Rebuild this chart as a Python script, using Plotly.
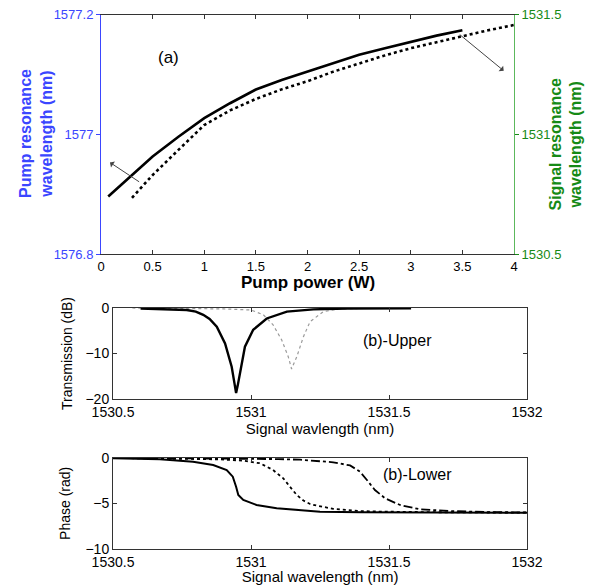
import plotly.graph_objects as go

# ---------------- data ----------------
# (a) pump resonance (left axis) vs pump power
pump_power_a = [0.07, 0.25, 0.5, 0.75, 1.0, 1.25, 1.5, 1.75, 2.0, 2.25, 2.5, 2.75, 3.0, 3.25, 3.5]
pump_resonance = [1576.896, 1576.924, 1576.963, 1576.996, 1577.027, 1577.052, 1577.075, 1577.091,
                  1577.105, 1577.12, 1577.133, 1577.144, 1577.155, 1577.165, 1577.174]
# (a) signal resonance (right axis) vs pump power
pump_power_b = [0.3, 0.5, 0.75, 1.0, 1.25, 1.5, 1.75, 2.0, 2.25, 2.5, 2.75, 3.0, 3.25, 3.5, 3.75, 4.0]
signal_resonance = [1530.735, 1530.83, 1530.935, 1531.039, 1531.10, 1531.148, 1531.188, 1531.222,
                    1531.262, 1531.297, 1531.33, 1531.36, 1531.385, 1531.411, 1531.435, 1531.457]

# (b)-Upper transmission (dB)
trans_wl_1 = [1530.6, 1530.7, 1530.767, 1530.8, 1530.827, 1530.85, 1530.876, 1530.906, 1530.93,
              1530.94, 1530.946, 1530.952, 1530.96, 1530.978, 1531.008, 1531.057, 1531.13,
              1531.226, 1531.35, 1531.58]
trans_db_1 = [-0.1, -0.22, -0.44, -0.8, -1.5, -2.4, -4.1, -7.8, -12.9, -16.5, -18.7, -17.0, -14.4,
              -8.5, -4.8, -2.3, -0.8, -0.3, -0.12, -0.05]
trans_wl_2 = [1530.57, 1530.755, 1530.9, 1531.0, 1531.045, 1531.08, 1531.111, 1531.135, 1531.147,
              1531.166, 1531.19, 1531.214, 1531.262, 1531.322, 1531.43]
trans_db_2 = [0.0, -0.1, -0.2, -0.44, -1.5, -3.7, -7.0, -10.7, -13.4, -10.7, -6.3, -3.0, -0.8,
              -0.2, -0.05]

# (b)-Lower phase (rad)
phase_wl_1 = [1530.5, 1530.67, 1530.79, 1530.863, 1530.912, 1530.934, 1530.946, 1530.954, 1530.972,
              1531.02, 1531.093, 1531.19, 1531.25, 1531.4, 1531.6, 1531.8, 1532.0]
phase_1 = [-0.07, -0.18, -0.44, -0.8, -1.35, -2.08, -3.18, -4.09, -4.63, -5.18, -5.54, -5.8, -5.91,
           -5.97, -6.0, -6.02, -6.03]
phase_wl_2 = [1530.5, 1530.7, 1530.888, 1530.972, 1531.033, 1531.08, 1531.117, 1531.141, 1531.166,
              1531.19, 1531.214, 1531.238, 1531.298, 1531.4, 1531.48, 1531.7, 1532.0]
phase_2 = [-0.03, -0.08, -0.18, -0.33, -0.61, -1.35, -2.26, -3.18, -4.09, -4.7, -5.07, -5.25, -5.6,
           -5.85, -5.91, -5.98, -6.02]
phase_wl_3 = [1530.5, 1530.9, 1531.1, 1531.178, 1531.298, 1531.359, 1531.395, 1531.42, 1531.449,
              1531.486, 1531.54, 1531.612, 1531.72, 1531.85, 1532.0]
phase_3 = [-0.02, -0.08, -0.15, -0.22, -0.5, -0.85, -1.53, -2.44, -3.54, -4.45, -5.18, -5.65, -5.84,
           -5.95, -6.0]

power_ticks = [0, 0.5, 1, 1.5, 2, 2.5, 3, 3.5, 4]
power_ticktext = ["0", "0.5", "1", "1.5", "2", "2.5", "3", "3.5", "4"]
pump_ticks = [1576.8, 1577.0, 1577.2]
pump_ticktext = ["1576.8", "1577", "1577.2"]
signal_ticks = [1530.5, 1531.0, 1531.5]
signal_ticktext = ["1530.5", "1531", "1531.5"]
wl_ticks = [1530.5, 1531.0, 1531.5, 1532.0]
wl_ticktext = ["1530.5", "1531", "1531.5", "1532"]
trans_ticks = [-20, -10, 0]
phase_ticks = [-10, -5, 0]

# ---------------- figure ----------------
W, H = 590, 585
FONT = "Liberation Sans, Arial, Helvetica, sans-serif"
BLUE = "#3b46ff"
GREEN = "#168a16"

def px(x):
    return x / W

def py(y):
    return 1 - y / H

fig = go.Figure()

fig.add_trace(go.Scatter(x=pump_power_a, y=pump_resonance, mode="lines",
                         line=dict(color="black", width=2.6), xaxis="x", yaxis="y",
                         showlegend=False))
fig.add_trace(go.Scatter(x=pump_power_b, y=signal_resonance, mode="lines",
                         line=dict(color="black", width=2.6, dash="dot"), xaxis="x", yaxis="y2",
                         showlegend=False))

fig.add_trace(go.Scatter(x=trans_wl_2, y=trans_db_2, mode="lines",
                         line=dict(color="#9a9a9a", width=1.2, dash="dot"), xaxis="x2", yaxis="y3",
                         showlegend=False))
fig.add_trace(go.Scatter(x=trans_wl_1, y=trans_db_1, mode="lines",
                         line=dict(color="black", width=2.4), xaxis="x2", yaxis="y3",
                         showlegend=False))

fig.add_trace(go.Scatter(x=phase_wl_3, y=phase_3, mode="lines",
                         line=dict(color="black", width=1.8, dash="dashdot"), xaxis="x3", yaxis="y4",
                         showlegend=False))
fig.add_trace(go.Scatter(x=phase_wl_2, y=phase_2, mode="lines",
                         line=dict(color="black", width=1.8, dash="dot"), xaxis="x3", yaxis="y4",
                         showlegend=False))
fig.add_trace(go.Scatter(x=phase_wl_1, y=phase_1, mode="lines",
                         line=dict(color="black", width=2.0), xaxis="x3", yaxis="y4",
                         showlegend=False))

top_dom_x = [px(101), px(514)]
top_dom_y = [py(254), py(14.7)]
mid_dom_x = [px(113), px(527)]
mid_dom_y = [py(399), py(308)]
bot_dom_y = [py(549), py(457.7)]

common_box = dict(showline=True, linecolor="#333", linewidth=1, ticks="inside", ticklen=4,
                  tickcolor="#333", showgrid=False, zeroline=False, mirror="ticks",
                  automargin=False)

fig.update_layout(
    width=W, height=H, autosize=False,
    margin=dict(l=0, r=0, t=0, b=0, autoexpand=False),
    paper_bgcolor="white", plot_bgcolor="white",
    font=dict(family=FONT, color="black", size=14),
    xaxis=dict(domain=top_dom_x, anchor="y", range=[0, 4], tickvals=power_ticks,
               ticktext=power_ticktext, tickfont=dict(size=13), **common_box),
    yaxis=dict(domain=top_dom_y, anchor="x", range=[1576.8, 1577.2], tickvals=pump_ticks,
               ticktext=pump_ticktext, tickfont=dict(size=13, color=BLUE), showline=True,
               linecolor=BLUE, linewidth=1, ticks="outside", ticklen=4, tickcolor=BLUE,
               showgrid=False, zeroline=False, ticklabelstandoff=0, automargin=False),
    yaxis2=dict(overlaying="y", side="right", anchor="x", range=[1530.5, 1531.5],
                tickvals=signal_ticks, ticktext=signal_ticktext,
                tickfont=dict(size=13, color=GREEN), showline=True, linecolor="#5cb85c",
                linewidth=1, ticks="outside", ticklen=4, tickcolor=GREEN, showgrid=False,
                zeroline=False, ticklabelstandoff=0, automargin=False),
    xaxis2=dict(domain=mid_dom_x, anchor="y3", range=[1530.5, 1532], tickvals=wl_ticks,
                ticktext=wl_ticktext, tickfont=dict(size=14),
                title=dict(text="Signal wavlength (nm)", font=dict(size=15), standoff=3),
                **common_box),
    yaxis3=dict(domain=mid_dom_y, anchor="x2", range=[-20, 0], tickvals=trans_ticks,
                tickfont=dict(size=14),
                title=dict(text="Transmission (dB)", font=dict(size=14), standoff=9),
                **common_box),
    xaxis3=dict(domain=mid_dom_x, anchor="y4", range=[1530.5, 1532], tickvals=wl_ticks,
                ticktext=wl_ticktext, tickfont=dict(size=14),
                title=dict(text="Signal wavelength (nm)", font=dict(size=15), standoff=3),
                **common_box),
    yaxis4=dict(domain=bot_dom_y, anchor="x3", range=[-10, 0], tickvals=phase_ticks,
                tickfont=dict(size=14),
                title=dict(text="Phase (rad)", font=dict(size=14), standoff=11),
                **common_box),
)

annotations = [
    dict(text="Pump resonance<br>wavelength (nm)", x=px(36), y=py(134), xref="paper", yref="paper",
         textangle=-90, showarrow=False, xanchor="center", yanchor="middle",
         font=dict(size=16, color=BLUE, family=FONT, weight="bold")),
    dict(text="Signal resonance<br>wavelength (nm)", x=px(565.5), y=py(144), xref="paper",
         yref="paper", textangle=-90, showarrow=False, xanchor="center", yanchor="middle",
         font=dict(size=16, color=GREEN, family=FONT, weight="bold")),
    dict(text="<b>Pump power (W)</b>", x=px(308), y=py(282), xref="paper", yref="paper",
         showarrow=False, xanchor="center", yanchor="middle", font=dict(size=17, family=FONT)),
    dict(text="(a)", x=0.65, y=1577.129, xref="x", yref="y", showarrow=False,
         font=dict(size=17, family=FONT)),
    dict(text="(b)-Upper", x=px(433.5), y=py(340), xref="paper", yref="paper", showarrow=False,
         font=dict(size=16, family=FONT)),
    dict(text="(b)-Lower", x=px(453.5), y=py(485), xref="paper", yref="paper", showarrow=False,
         font=dict(size=16, family=FONT)),
    # arrows
    dict(x=0.087, y=1576.953, ax=0.384, ay=1576.919, xref="x", yref="y", axref="x", ayref="y",
         showarrow=True, arrowhead=1, arrowsize=1.2, arrowwidth=1, arrowcolor="#444", text=""),
    dict(x=3.9, y=1531.266, ax=3.46, ay=1531.422, xref="x", yref="y2", axref="x", ayref="y2",
         showarrow=True, arrowhead=1, arrowsize=1.2, arrowwidth=1, arrowcolor="#444", text=""),
]
fig.update_layout(annotations=annotations)

fig.write_html("out.html", config={"displayModeBar": False},
               post_script="document.body.style.margin='0px';document.body.style.overflow='hidden';")
